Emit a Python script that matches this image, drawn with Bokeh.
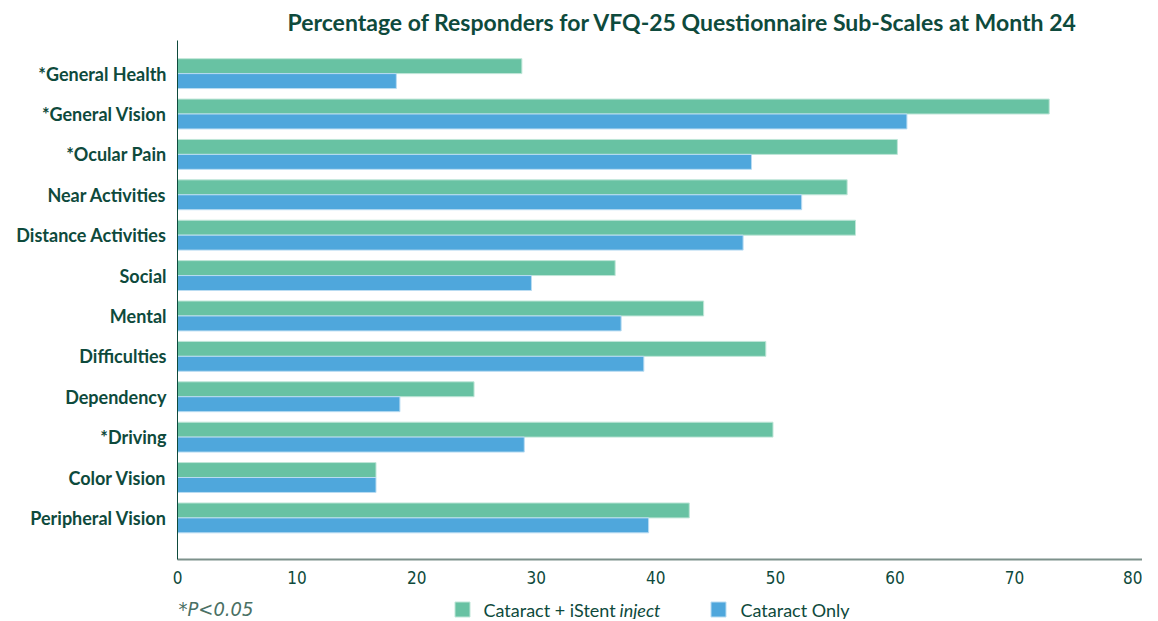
from bokeh.plotting import figure
from bokeh.layouts import column
from bokeh.models import ColumnDataSource, FixedTicker
from bokeh.core.properties import value
from bokeh.embed import file_html
from bokeh.resources import INLINE

categories = ["*General Health", "*General Vision", "*Ocular Pain", "Near Activities",
              "Distance Activities", "Social", "Mental", "Difficulties", "Dependency",
              "*Driving", "Color Vision", "Peripheral Vision"]
istent = [28.8, 72.9, 60.2, 56.0, 56.7, 36.6, 44.0, 49.2, 24.8, 49.8, 16.6, 42.8]
cataract_only = [18.3, 61.0, 48.0, 52.2, 47.3, 29.6, 37.1, 39.0, 18.6, 29.0, 16.6, 39.4]
x_ticks = [0, 10, 20, 30, 40, 50, 60, 70, 80]
series_names = ["Cataract + iStent ", "inject", "Cataract Only"]
footnote = "*P<0.05"
title_text = "Percentage of Responders for VFQ-25 Questionnaire Sub-Scales at Month 24"

DARK = "#0e4a3c"
GREEN = "#68c2a3"
BLUE = "#4fa7dc"
NARROW = "Liberation Sans Narrow, DejaVu Sans Condensed, Roboto Condensed, sans-serif"
n = len(categories)
ypos = [n - 1 - i for i in range(n)]
bh = 0.37

src = ColumnDataSource(dict(
    y=ypos,
    yg=[y + bh / 2 for y in ypos],
    yb=[y - bh / 2 for y in ypos],
    g=istent, b=cataract_only))

p = figure(width=1142, height=588, output_backend="svg", toolbar_location=None,
           x_range=(0, 80.7), y_range=(-1.03, 11.82),
           min_border_left=177, min_border_right=0, min_border_top=40, min_border_bottom=29)
p.title.text = title_text
p.title.align = "left"
p.title.offset = 110
p.title.text_font = "Lato"
p.title.text_font_size = "23px"
p.title.text_font_style = "bold"
p.title.text_color = DARK
p.title.standoff = 9

p.hbar(y="yg", left=0, right="g", height=bh, source=src, fill_color=GREEN,
       line_color="#bfe6d8", line_width=1)
p.hbar(y="yb", left=0, right="b", height=bh, source=src, fill_color=BLUE,
       line_color="#b9dcf2", line_width=1)

p.grid.visible = False
p.outline_line_color = None
p.background_fill_color = "white"

p.yaxis.ticker = FixedTicker(ticks=ypos)
p.yaxis.major_label_overrides = {y: c for y, c in zip(ypos, categories)}
p.yaxis.major_tick_line_color = None
p.yaxis.minor_tick_line_color = None
p.yaxis.axis_line_color = DARK
p.yaxis.axis_line_width = 1
p.yaxis.major_label_text_font = "Lato"
p.yaxis.major_label_text_font_style = "bold"
p.yaxis.major_label_text_font_size = "18px"
p.yaxis.major_label_text_color = DARK
p.yaxis.major_label_standoff = 5

p.xaxis.ticker = FixedTicker(ticks=x_ticks)
p.xaxis.major_tick_line_color = None
p.xaxis.minor_tick_line_color = None
p.xaxis.axis_line_color = "#7d918b"
p.xaxis.axis_line_width = 2
p.xaxis.major_label_text_font = NARROW
p.xaxis.major_label_text_font_size = "17px"
p.xaxis.major_label_text_color = DARK
p.xaxis.major_label_standoff = 5

# legend strip (frame is aligned with the main frame, so x runs in page pixels)
p2 = figure(width=1142, height=31, output_backend="svg", toolbar_location=None,
            x_range=(177, 1142), y_range=(0, 31),
            min_border=0, min_border_left=177, min_border_right=0, min_border_top=0, min_border_bottom=0)
p2.axis.visible = False
p2.grid.visible = False
p2.outline_line_color = None
p2.rect(x=[462, 718], y=[10, 10], width=15, height=15, fill_color=[GREEN, BLUE],
        line_color=["#bfe6d8", "#b9dcf2"])
p2.text(x=[483], y=[10], text=[series_names[0]], text_font=value("Lato"),
        text_font_size="18px", text_color=DARK, text_baseline="middle")
p2.text(x=[619], y=[10], text=[series_names[1]], text_font=value("Lato"),
        text_font_size="18px", text_font_style="italic", text_color=DARK, text_baseline="middle")
p2.text(x=[740], y=[10], text=[series_names[2]], text_font=value("Lato"),
        text_font_size="18px", text_color=DARK, text_baseline="middle")
p2.text(x=[178], y=[11], text=[footnote], text_font=value(NARROW),
        text_font_size="20px", text_font_style="italic", text_color="#4a7064", text_baseline="middle")

layout = column(p, p2, spacing=0)
open("out.html", "w").write(file_html(layout, INLINE))
